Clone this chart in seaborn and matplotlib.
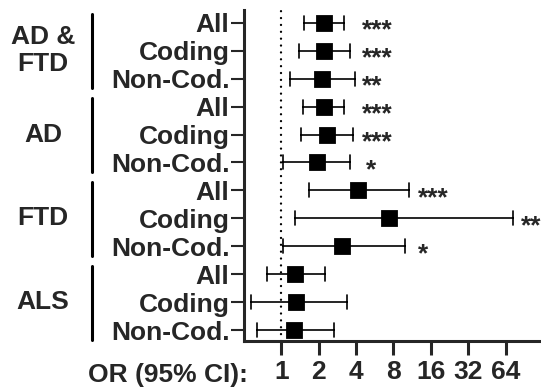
import numpy as np
import pandas as pd
import matplotlib
matplotlib.use("Agg")
import matplotlib.pyplot as plt
from matplotlib.ticker import NullLocator
from matplotlib.transforms import blended_transform_factory
import seaborn as sns

# ---------------- data ----------------
groups = ["AD &\nFTD", "AD", "FTD", "ALS"]
subsets = ["All", "Coding", "Non-Cod."]
odds_ratio = [2.19, 2.19, 2.11, 2.19, 2.32, 1.93, 4.13, 7.35, 3.10, 1.28, 1.32, 1.26]
ci_low = [1.52, 1.38, 1.18, 1.49, 1.44, 1.03, 1.67, 1.30, 1.03, 0.76, 0.57, 0.64]
ci_high = [3.18, 3.60, 3.91, 3.18, 3.81, 3.60, 10.7, 73.0, 9.83, 2.26, 3.36, 2.66]
signif = ["***", "***", "**", "***", "***", "*", "***", "**", "*", "", "", ""]
x_ticks = [1, 2, 4, 8, 16, 32, 64]
x_tick_labels = ["1", "2", "4", "8", "16", "32", "64"]
x_axis_label = "OR (95% CI):"

# ---------------- layout ----------------
star_x_pos = [4.5, 4.5, 4.5, 4.5, 4.5, 4.85, 12.5, 85, 12.5, 1, 1, 1]

sns.set_style("ticks")
plt.rcParams["font.family"] = ["Liberation Sans", "DejaVu Sans"]
plt.rcParams["font.weight"] = "bold"
plt.rcParams["font.size"] = 19

rows = [f"{g}|{s}" for g in groups for s in subsets]
df = pd.DataFrame({
    "row": np.repeat(rows, 3),
    "OR": np.ravel(np.column_stack([ci_low, odds_ratio, ci_high])),
})

fig = plt.figure(figsize=(5.41, 3.87), dpi=100)
ax = fig.add_axes([0.451, 0.119, 0.5525, 0.855])
ax.set_xscale("log", base=2)

sns.pointplot(
    data=df, x="OR", y="row", order=rows, orient="h",
    estimator="median", errorbar=lambda v: (v.min(), v.max()),
    color="black", markers="s", linestyles="none", capsize=0.5,
    err_kws={"linewidth": 1.2}, markersize=10, ax=ax,
)

ax.axvline(1, color="black", lw=1.7, linestyle=(0, (0.01, 2.9)),
           dash_capstyle="round", zorder=0)

ax.set_xlim(0.5, 128)
ax.set_ylim(11.39, -0.455)
ax.set_xticks(x_ticks)
ax.set_xticklabels(x_tick_labels)
ax.xaxis.set_minor_locator(NullLocator())
ax.set_yticks(range(len(rows)))
ax.set_yticklabels(subsets * len(groups))
ax.set_xlabel("")
ax.set_ylabel("")

for s in ["top", "right"]:
    ax.spines[s].set_visible(False)
for s in ["left", "bottom"]:
    ax.spines[s].set_linewidth(2.2)
ax.tick_params(axis="x", length=10, width=2.2, pad=4, labelsize=19)
ax.tick_params(axis="y", length=9.5, width=1.5, pad=1, labelsize=19)

# significance stars
for i, (s, xp) in enumerate(zip(signif, star_x_pos)):
    if s:
        ax.annotate(s, xy=(xp, i), xytext=(0, -10.8), textcoords="offset points",
                    ha="left", va="baseline", fontsize=19, fontweight="bold")

# group labels and brackets
tr = blended_transform_factory(fig.transFigure, ax.transData)
for gi, g in enumerate(groups):
    first = gi * len(subsets)
    last = first + len(subsets) - 1
    ax.text(43 / 541, (first + last) / 2, g, transform=tr, ha="center", va="center",
            multialignment="center", fontsize=19, fontweight="bold", linespacing=1.15)
    ax.plot([91.7 / 541, 91.7 / 541], [first - 0.3, last + 0.35], transform=tr,
            color="black", lw=2.2, clip_on=False, solid_capstyle="round")

fig.text(248 / 541, 1 - 381.7 / 387, x_axis_label, ha="right", va="baseline",
         fontsize=19, fontweight="bold")

fig.savefig("out.png", dpi=100)
